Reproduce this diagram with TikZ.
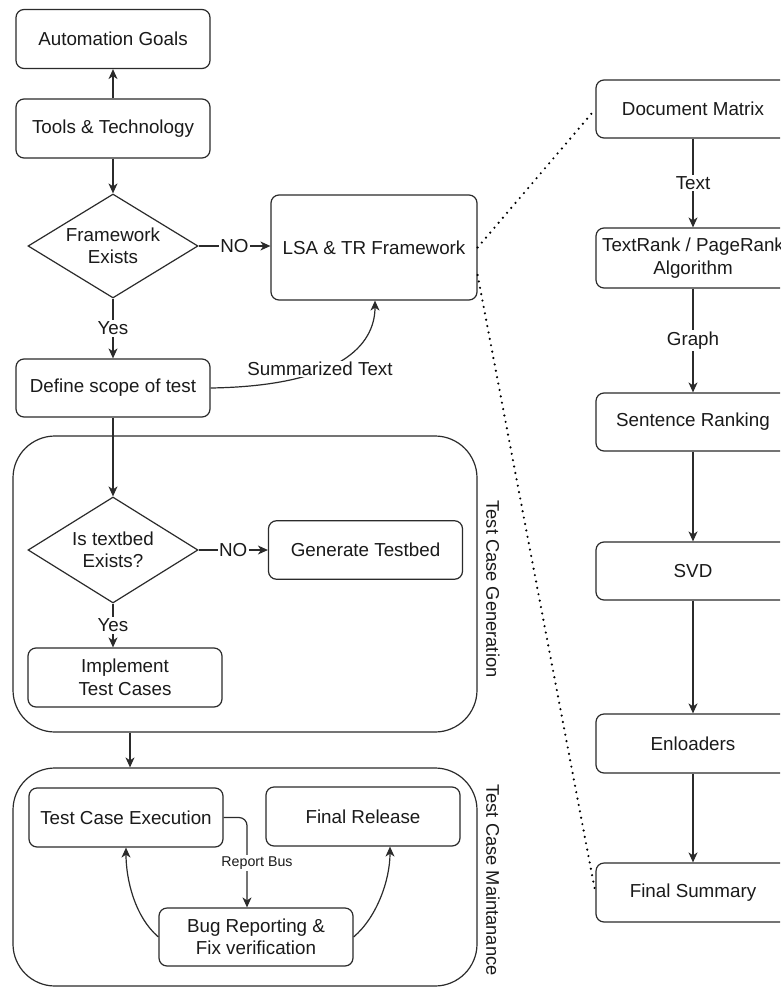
\documentclass[tikz,border=0pt]{standalone}
\usepackage{fontspec}
\setmainfont{Liberation Sans}
\usetikzlibrary{shapes.geometric,arrows.meta,calc}
\definecolor{ln}{HTML}{2B2B2B}
\definecolor{tx}{HTML}{1A1A1A}
\newcommand{\dgfont}{\fontsize{18.8}{22.5}\selectfont}
\newcommand{\dglane}{\fontsize{18.3}{22}\selectfont}
\newcommand{\dgsmall}{\fontsize{14.2}{17}\selectfont}
\begin{document}
\begin{tikzpicture}[x=1pt,y=-1pt,
  every node/.style={text=tx},
  line/.style={draw=ln, line width=1.2pt},
  arr/.style={line, -{Stealth[length=10pt,width=9pt,inset=3pt]}},
  dots/.style={draw=black, line width=2.4pt, dash pattern=on 0pt off 6.5pt, line cap=round},
  box/.style={line, rounded corners=8pt, minimum width=194pt, inner sep=0pt, align=center, font=\dgfont},
  dia/.style={line, diamond, aspect=1.6, inner sep=0pt, minimum width=170pt, minimum height=106pt, align=center, font=\dgfont},
  lane/.style={line, rounded corners=42pt, inner sep=0pt},
  lanelbl/.style={rotate=-90, font=\dglane, inner sep=0pt},
  lbl/.style={fill=white, inner sep=1.5pt, font=\dgfont},
  slbl/.style={fill=white, inner sep=1.5pt, font=\dgsmall}]
\clip (0,0) rectangle (780,987);
\fill[white] (0,0) rectangle (780,987);

% helper coordinates
\coordinate (x130) at (130,0);
\coordinate (x126) at (126,0);
\coordinate (x247) at (247,0);
\coordinate (x375) at (375,0);
\coordinate (x390) at (390,0);
\coordinate (y275) at (0,275);

% left column
\node[box, minimum height=59pt] (goals) at (113,39) {Automation Goals};
\node[box, minimum height=59pt] (tools) at (113,128.5) {Tools \& Technology};
\node[dia, minimum height=104pt] (fw) at (113,246) {Framework\\Exists};
\node[box, minimum width=206pt, minimum height=105pt] (lsa) at (374,247.5) {LSA \& TR Framework};
\node[box, minimum height=58pt] (scope) at (113,388) {Define scope of test};

% lanes
\node[lane, minimum width=464pt, minimum height=296pt] (tcg) at (245,584) {};
\node[lane, minimum width=464pt, minimum height=218pt] (tcm) at (245,877) {};
\node[lanelbl] (tcgl) at (493,589) {Test Case Generation};
\node[lanelbl] (tcml) at (493,880) {Test Case Maintanance};

\node[dia] (tb) at (113,550) {Is textbed\\Exists?};
\node[box, minimum height=58.5pt] (gen) at (365.5,550) {Generate Testbed};
\node[box, minimum height=59pt] (impl) at (125,677.5) {Implement\\Test Cases};

\node[box, minimum height=59pt] (exec) at (126,817.5) {Test Case Execution};
\node[box, minimum height=59pt] (rel) at (363,816.5) {Final Release};
\node[box, minimum height=58pt] (bug) at (256,937) {Bug Reporting \&\\Fix verification};

% right column
\node[box, minimum height=58pt] (dm) at (693,109) {Document Matrix};
\node[box, minimum height=60pt] (tr) at (693,258) {TextRank / PageRank\\Algorithm};
\node[box, minimum height=58pt] (sr) at (693,422) {Sentence Ranking};
\node[box, minimum height=58pt] (svd) at (693,571) {SVD};
\node[box, minimum height=59pt] (enl) at (693,743.5) {Enloaders};
\node[box, minimum height=59pt] (fs) at (693,892.5) {Final Summary};

% connectors left
\draw[arr] (tools) -- (goals);
\draw[arr] (tools) -- (fw);
\draw[arr] (fw.east) -- node[lbl] (no1) {NO} (fw.east -| lsa.west);
\draw[arr] (fw) -- node[lbl] (yes1) {Yes} (scope);
\draw[arr] (scope.east) .. controls (340,386) and (375,345) .. (lsa.south -| x375);
\node[lbl] (sumt) at (320,369) {Summarized Text};
\draw[arr] (scope.south) -- (scope.south |- tb.north);
\draw[arr] (tb.east) -- node[lbl] (no2) {NO} (tb.east -| gen.west);
\draw[arr] (tb.south) -- node[lbl] (yes2) {Yes} (tb.south |- impl.north);
\draw[arr] (tcg.south -| x130) -- (tcm.north -| x130);
\draw[arr, rounded corners=8pt] (exec.east) -- (exec.east -| x247) -- (bug.north -| x247);
\node[slbl] (rb) at (257,863) {Report Bus};
\draw[arr] (bug.west) .. controls (135,917) and (126,880) .. (exec.south -| x126);
\draw[arr] (bug.east) .. controls (377,917) and (390,880) .. (rel.south -| x390);

% connectors right
\draw[arr] (dm) -- node[lbl] (lt) {Text} (tr);
\draw[arr] (tr) -- node[lbl] (lg) {Graph} (sr);
\draw[arr] (sr) -- (svd);
\draw[arr] (svd) -- (enl);
\draw[arr] (enl) -- (fs);

% dotted links
\draw[dots] (lsa.east) -- (dm.west);
\draw[dots] (lsa.east |- y275) -- (fs.west);
\end{tikzpicture}
\end{document}
